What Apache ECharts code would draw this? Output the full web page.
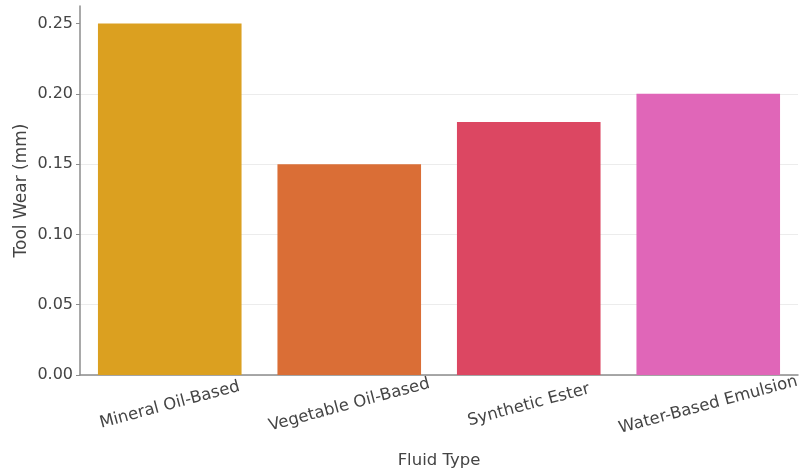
<!DOCTYPE html>
<html>
<head>
<meta charset="utf-8">
<title>Tool Wear by Fluid Type</title>
<script src="https://cdn.jsdelivr.net/npm/echarts@6/dist/echarts.min.js"></script>
<style>
  html, body { margin: 0; padding: 0; background: #ffffff; }
  #chart { width: 803px; height: 474px; }
</style>
</head>
<body>
<div id="chart"></div>
<script>
// Cutting fluid categories and measured tool wear
const fluidTypes = ['Mineral Oil-Based', 'Vegetable Oil-Based', 'Synthetic Ester', 'Water-Based Emulsion'];
const toolWear = [0.25, 0.15, 0.18, 0.20];
const barColors = ['#DBA020', '#DA6E36', '#DC4762', '#E066B8'];
const yTicks = [0, 0.05, 0.10, 0.15, 0.20, 0.25];

const textColor = '#444444';
const axisColor = '#8c8c8c';
const font = 'DejaVu Sans';

const chart = echarts.init(document.getElementById('chart'), null, { renderer: 'canvas' });

chart.setOption({
  animation: false,
  backgroundColor: '#ffffff',
  grid: { left: 80, right: 5, top: 6, bottom: 98, containLabel: false },
  xAxis: {
    type: 'category',
    data: fluidTypes,
    name: 'Fluid Type',
    nameLocation: 'middle',
    nameGap: 77,
    nameMoveOverlap: false,
    nameTextStyle: { color: textColor, fontSize: 16.5, fontFamily: font },
    axisLine: { lineStyle: { color: axisColor, width: 1.5 } },
    axisTick: { alignWithLabel: true, length: 3, lineStyle: { color: '#666666' } },
    axisLabel: {
      rotate: 15,
      align: 'center',
      verticalAlign: 'middle',
      margin: 30,
      color: textColor,
      fontSize: 16.5,
      fontFamily: font,
      interval: 0
    },
    splitLine: { show: false }
  },
  yAxis: {
    type: 'value',
    min: 0,
    max: 0.2625,
    interval: 0.05,
    name: 'Tool Wear (mm)',
    nameLocation: 'middle',
    nameRotate: 90,
    nameGap: 50,
    nameMoveOverlap: false,
    nameTextStyle: { color: textColor, fontSize: 17, fontFamily: font },
    axisLine: { show: true, lineStyle: { color: axisColor, width: 1.5 } },
    axisTick: { show: true, length: 4, customValues: yTicks, lineStyle: { color: axisColor } },
    axisLabel: {
      customValues: yTicks,
      formatter: v => v.toFixed(2),
      color: textColor,
      fontSize: 16,
      fontFamily: font,
      margin: 7
    },
    splitLine: { show: true, showMaxLine: false, lineStyle: { color: '#ececec', width: 1 } }
  },
  series: [{
    type: 'bar',
    barWidth: '80%',
    data: toolWear.map((v, i) => ({ value: v, itemStyle: { color: barColors[i] } }))
  }]
});
</script>
</body>
</html>
